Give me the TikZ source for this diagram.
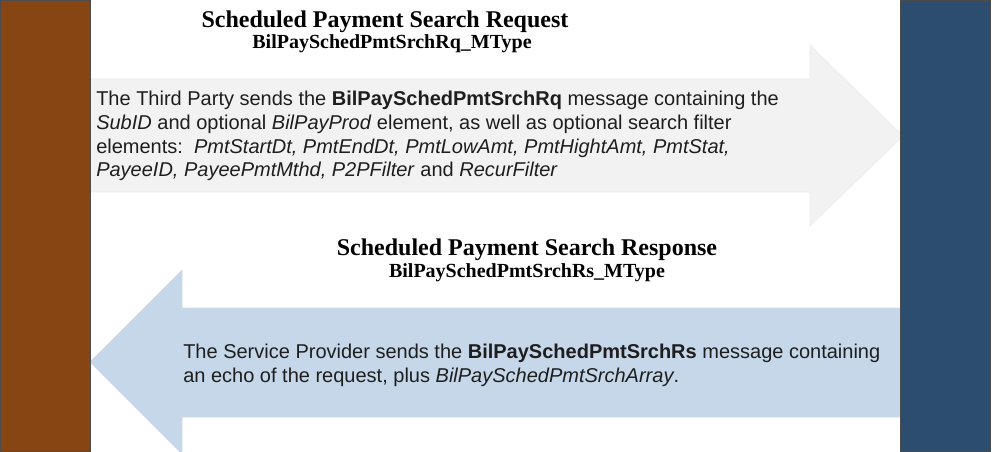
\documentclass[tikz,border=0pt]{standalone}
\usepackage{fontspec}
\setmainfont{Liberation Serif}
\setsansfont{Liberation Sans}
\usetikzlibrary{positioning}
\definecolor{tpbrown}{RGB}{134,69,18}
\definecolor{spblue}{RGB}{44,77,109}
\definecolor{rqgrey}{RGB}{242,242,242}
\definecolor{rsblue}{RGB}{197,215,232}
\definecolor{msgtext}{RGB}{30,30,30}

\begin{document}
\begin{tikzpicture}[x=0.75pt,y=-0.75pt] % one unit is one pixel of the reference
\tikzset{party/.style={draw=black!70, line width=0.6pt, inner sep=0pt, minimum width=67.5pt, minimum height=338.25pt, anchor=north west}} % the two side bars
\tikzset{msgtitle/.style={font=\fontsize{18}{20}\selectfont\bfseries, inner sep=0pt, anchor=base}}
\tikzset{msgtype/.style={font=\fontsize{15}{17}\selectfont\bfseries, inner sep=0pt, anchor=base}}
\tikzset{msgbody/.style={font=\fontsize{15}{17.8}\selectfont\sffamily, text=msgtext, align=left, inner sep=0pt, anchor=north west}}
\useasboundingbox (0,0) rectangle (996,451);
% message arrows
\filldraw[fill=rqgrey, draw=black!8] (90,79) -- (810,79) -- (810,45) -- (903,136) -- (810,226) -- (810,192) -- (90,192) -- cycle;
\filldraw[fill=rsblue, draw=rsblue!90!black!60] (900,308) -- (182,308) -- (182,270) -- (90,362) -- (182,454) -- (182,417) -- (900,417) -- cycle;
% parties
\node[party, fill=tpbrown] (tp) at (0,0) {};
\node[party, fill=spblue] (sp) at (900,0) {};
% request
\node[msgtitle] (rqtitle) at (385,27) {Scheduled Payment Search Request};
\node[msgtype] (rqtype) at (392,48) {BilPaySchedPmtSrchRq\_MType};
\node[msgbody] (rqbody) at (96,91) {The Third Party sends the \textbf{BilPaySchedPmtSrchRq} message containing the\\
\textit{SubID} and optional \textit{BilPayProd} element, as well as optional search filter\\
elements:\ \ \textit{PmtStartDt, PmtEndDt, PmtLowAmt, PmtHightAmt, PmtStat,}\\
\textit{PayeeID, PayeePmtMthd, P2PFilter} and \textit{RecurFilter}};
% response
\node[msgtitle] (rstitle) at (527,255) {Scheduled Payment Search Response};
\node[msgtype] (rstype) at (527,277) {BilPaySchedPmtSrchRs\_MType};
\node[msgbody] (rsbody) at (183,344) {The Service Provider sends the \textbf{BilPaySchedPmtSrchRs} message containing\\
an echo of the request, plus \textit{BilPaySchedPmtSrchArray}.};
\end{tikzpicture}
\end{document}
